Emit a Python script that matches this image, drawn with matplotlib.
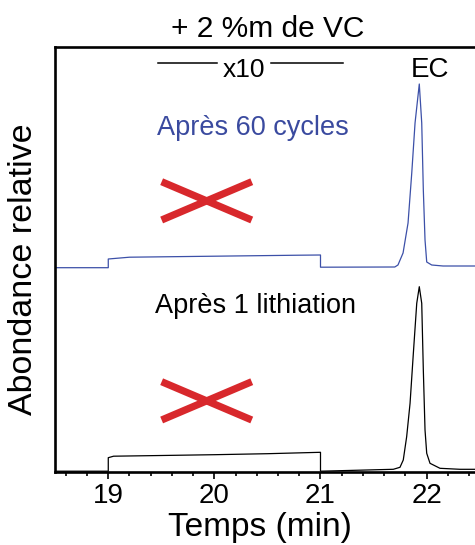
import numpy as np
import matplotlib
matplotlib.use("Agg")
import matplotlib.pyplot as plt
from matplotlib.ticker import MultipleLocator

plt.rcParams['font.family'] = ['Liberation Sans', 'DejaVu Sans']

# chromatogramme après 60 cycles (bleu), intensité relative
t_blue = [18.5, 19.0, 19.0, 19.2, 19.6, 20.0, 20.4, 20.8, 21.0, 21.0, 21.70, 21.73,
          21.778, 21.825, 21.86, 21.891, 21.931, 21.954, 21.969, 21.985, 22.001,
          22.048, 22.155, 22.46]
y_blue = [204, 204, 212.7, 214.5, 215, 215.5, 216, 216.5, 216.7, 204.5, 204.7, 206.7,
          218.7, 248.7, 298.7, 348.7, 387.7, 348.7, 281.7, 231.7, 209.7,
          206.7, 205.7, 205.7]

# chromatogramme après 1 lithiation (noir)
t_black = [18.5, 19.0, 19.0, 19.05, 19.5, 20.0, 20.5, 21.0, 21.0, 21.686, 21.749,
           21.78, 21.812, 21.844, 21.875, 21.907, 21.931, 21.954, 21.969, 21.985,
           22.001, 22.032, 22.126, 22.315, 22.46]
y_black = [0.5, 0.5, 14, 15.5, 16.2, 17, 18, 19.4, 0.5, 2.4, 4.4,
           11.7, 35, 68.4, 118.4, 168.4, 185, 168.4, 101.7, 41.7,
           18.4, 8.4, 3.4, 2.4, 2.4]

# croix rouges (pas de VC détecté)
cross_t = [19.503, 20.352]
cross_top = [290, 90]
cross_bottom = [251.7, 51.7]

# zone agrandie x10
zoom_left = [19.472, 20.022]
zoom_right = [20.531, 21.216]
zoom_y = 409

xticks = [19, 20, 21, 22]

fig = plt.figure(figsize=(4.75, 5.45), dpi=100)
ax = fig.add_axes([55 / 475, 73.3 / 545, 420 / 475, 424.4 / 545])

ax.plot(t_blue, y_blue, color='#3c50a8', lw=0.9)
ax.plot(t_black, y_black, color='black', lw=0.9)

for k in range(2):
    ax.plot(cross_t, [cross_top[k], cross_bottom[k]], color='#d8282c', lw=5.2,
            solid_capstyle='butt', zorder=5)
    ax.plot(cross_t, [cross_bottom[k], cross_top[k]], color='#d8282c', lw=5.2,
            solid_capstyle='butt', zorder=5)

ax.plot(zoom_left, [zoom_y, zoom_y], color='black', lw=1.1)
ax.plot(zoom_right, [zoom_y, zoom_y], color='black', lw=1.1)
ax.text(20.281, 395, 'x10', ha='center', va='baseline', fontsize=19)
ax.text(22.03, 394.4, 'EC', ha='center', va='baseline', fontsize=20)
ax.text(19.46, 336.7, 'Après 60 cycles', ha='left', va='baseline', fontsize=19.5,
        color='#3a4a9f')
ax.text(19.44, 158.7, 'Après 1 lithiation', ha='left', va='baseline', fontsize=19.5)

ax.set_xlim(18.498, 22.456)
ax.set_ylim(0, 424.4)
ax.set_xticks(xticks)
ax.xaxis.set_minor_locator(MultipleLocator(0.2))
ax.set_yticks([])
ax.tick_params(axis='x', which='major', direction='out', length=5, width=1.2,
               labelsize=20, pad=3)
ax.tick_params(axis='x', which='minor', direction='out', length=3, width=1.2)
ax.spines['right'].set_visible(False)
for side in ['left', 'bottom', 'top']:
    ax.spines[side].set_linewidth(1.9)

ax.set_xlabel('Temps (min)', fontsize=24, labelpad=2)
ax.xaxis.set_label_coords((260 - 55) / 420, -0.094)
ax.xaxis.label.set_va('top')
fig.text(24 / 475, 1 - 269 / 545, 'Abondance relative', rotation=90,
         ha='center', va='center', fontsize=24.5)
fig.text(268 / 475, 1 - 37 / 545, '+ 2 %m de VC', ha='center', va='baseline',
         fontsize=21.5)

fig.savefig('out.png', dpi=100)
